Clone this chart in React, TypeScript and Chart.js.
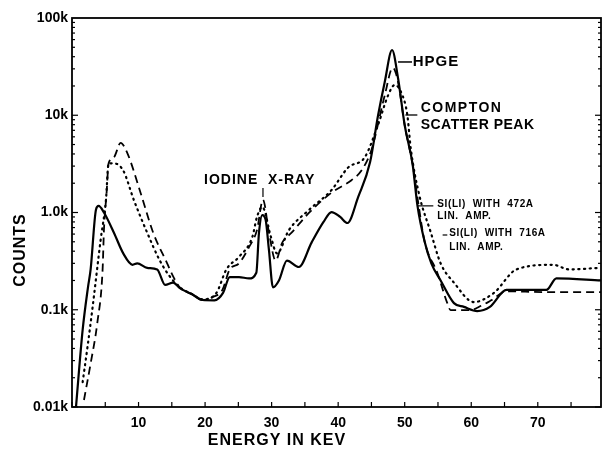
import React, { useEffect, useRef } from 'react';
import { Chart, registerables } from 'chart.js';

Chart.register(...registerables);

// ---- Data (energy in keV, counts in k) ----
const hpgeX = [0.6, 1.6, 2.4, 2.8, 3.6, 4.0, 4.8, 6.3, 7.7, 9.1, 9.8, 11.3, 12.8, 14.0, 15.2, 16.2, 18.0, 19.6, 21.4, 22.7, 23.7, 25.1, 26.6, 27.7, 28.1, 28.6, 29.1, 29.6, 30.2, 31.1, 32.3, 34.1, 36.0, 37.8, 39.0, 40.3, 41.4, 43.0, 44.8, 46.0, 47.0, 48.1, 49.0, 50.0, 51.2, 51.9, 53.0, 54.0, 55.4, 57.4, 58.9, 60.9, 62.8, 65.3, 71.3, 72.8, 79.5];
const hpgeY = [0.01, 0.062, 0.17, 0.26, 1.07, 1.17, 1.0, 0.62, 0.38, 0.29, 0.30, 0.27, 0.26, 0.18, 0.19, 0.167, 0.145, 0.126, 0.125, 0.149, 0.217, 0.217, 0.21, 0.24, 0.62, 0.94, 0.84, 0.41, 0.17, 0.20, 0.32, 0.275, 0.49, 0.80, 1.01, 0.90, 0.78, 1.44, 3.3, 10, 22, 46.9, 24, 7.9, 3.1, 1.2, 0.5, 0.3, 0.2, 0.117, 0.107, 0.097, 0.107, 0.16, 0.16, 0.21, 0.20];

const si472X = [1.8, 2.8, 3.8, 4.6, 4.8, 5.2, 5.5, 6.3, 7.3, 8.3, 10.3, 12.2, 14.3, 15.2, 16.2, 18.0, 19.6, 21.1, 22.6, 23.7, 25.1, 26.6, 27.8, 28.7, 29.6, 30.6, 31.6, 33.0, 35.6, 39.0, 42.0, 43.5, 45.0, 47.0, 48.2, 49.0, 50.0, 51.2, 52.0, 53.0, 54.9, 56.4, 56.9, 59.8, 61.5, 63.0, 65.3, 71.0, 79.5];
const si472Y = [0.0118, 0.028, 0.073, 0.26, 0.66, 1.6, 3.2, 3.7, 5.2, 4.1, 1.6, 0.62, 0.30, 0.22, 0.17, 0.145, 0.126, 0.135, 0.16, 0.26, 0.30, 0.44, 0.66, 1.35, 0.62, 0.32, 0.49, 0.62, 0.99, 1.6, 2.15, 2.7, 4.4, 16, 30.8, 22, 7.9, 3.1, 1.3, 0.5, 0.24, 0.117, 0.099, 0.099, 0.11, 0.125, 0.155, 0.152, 0.152];

const si716X = [1.6, 2.4, 3.1, 4.3, 5.1, 5.5, 6.3, 7.7, 9.3, 11.3, 13.2, 14.7, 16.2, 18.0, 19.6, 21.7, 23.2, 25.1, 27.1, 27.8, 28.6, 29.9, 30.8, 32.6, 35.6, 39.0, 41.5, 44.0, 46.0, 47.5, 48.5, 49.5, 50.4, 50.9, 52.2, 53.9, 55.4, 57.4, 60.4, 63.4, 66.8, 72.3, 74.7, 79.5];
const si716Y = [0.018, 0.045, 0.107, 0.52, 1.34, 3.2, 3.2, 2.7, 1.34, 0.62, 0.32, 0.22, 0.17, 0.145, 0.128, 0.149, 0.26, 0.35, 0.56, 0.90, 1.14, 0.56, 0.38, 0.66, 1.06, 1.7, 2.9, 3.7, 8, 16, 20.5, 17, 10, 4.6, 1.5, 0.63, 0.30, 0.19, 0.12, 0.149, 0.26, 0.29, 0.26, 0.27];

const xTickLabels = [10, 20, 30, 40, 50, 60, 70];
const yTickValues = [0.01, 0.1, 1, 10, 100];
const yTickLabels = ['0.01k', '0.1k', '1.0k', '10k', '100k'];

const xTitle = 'ENERGY IN KEV';
const yTitle = 'COUNTS';

const FONT = '"Liberation Sans", Arial, sans-serif';

const toPoints = (xs: number[], ys: number[]) => xs.map((x, i) => ({ x, y: ys[i] }));

const notesPlugin = {
  id: 'notes',
  afterDraw(chart: any) {
    const { ctx, chartArea: a } = chart;
    const xs = chart.scales.x;
    const ys = chart.scales.y;
    const px = (v: number) => xs.getPixelForValue(v);
    const py = (v: number) => ys.getPixelForValue(v);
    ctx.save();
    ctx.strokeStyle = '#000';
    ctx.fillStyle = '#000';
    ctx.lineWidth = 1.8;
    ctx.strokeRect(a.left, a.top, a.right - a.left, a.bottom - a.top);

    const line = (x1: number, y1: number, x2: number, y2: number, w = 1.2) => {
      ctx.lineWidth = w;
      ctx.beginPath();
      ctx.moveTo(x1, y1);
      ctx.lineTo(x2, y2);
      ctx.stroke();
    };
    // x ticks (inward)
    for (let v = 0; v < 80; v += 5) {
      const p = px(v);
      line(p, a.bottom, p, a.bottom - 5);
    }
    // y ticks (inward, left and right)
    for (let d = -2; d < 2; d++) {
      for (let m = 1; m < 10; m++) {
        const p = py(m * Math.pow(10, d));
        const len = m === 1 ? 6 : 3;
        line(a.left, p, a.left + len, p);
        line(a.right, p, a.right - len, p);
      }
    }

    // axis titles
    ctx.font = `bold 16px ${FONT}`;
    ctx.textAlign = 'center';
    ctx.textBaseline = 'middle';
    (ctx as any).letterSpacing = '1px';
    ctx.fillText(xTitle, 277, 441);
    ctx.save();
    ctx.translate(21, 250);
    ctx.rotate(-Math.PI / 2);
    ctx.fillText(yTitle, 0, 0);
    ctx.restore();

    // annotations
    const text = (s: string, x: number, y: number, size: number, align: CanvasTextAlign = 'left', ls = '0.5px') => {
      ctx.font = `bold ${size}px ${FONT}`;
      (ctx as any).letterSpacing = ls;
      ctx.textAlign = align;
      ctx.textBaseline = 'middle';
      ctx.fillText(s, px(x), py(y));
    };
    // Iodine
    text('IODINE  X-RAY', 28.2, 2.16, 14, 'center', '1px');
    line(px(28.7), py(1.79), px(28.7), py(1.44), 1.2);
    // HPGE
    text('HPGE', 51.2, 35.3, 15, 'left', '1px');
    line(px(49.0), py(35.3), px(51.1), py(35.3), 1.5);
    // Compton
    text('COMPTON', 52.4, 11.9, 14, 'left', '1.5px');
    text('SCATTER PEAK', 52.4, 7.94, 14, 'left', '0.5px');
    line(px(50.1), py(10.06), px(51.9), py(10.06), 1.3);
    // Si(Li) 472A
    text('SI(LI)  WITH  472A', 54.9, 1.22, 10, 'left', '0.6px');
    text('LIN.  AMP.', 54.9, 0.92, 10, 'left', '0.6px');
    line(px(51.9), py(1.17), px(54.3), py(1.17), 1.2);
    // Si(Li) 716A
    text('SI(LI)  WITH  716A', 56.7, 0.615, 10, 'left', '0.6px');
    text('LIN.  AMP.', 56.7, 0.442, 10, 'left', '0.6px');
    line(px(55.7), py(0.587), px(56.4), py(0.587), 1.2);
    ctx.restore();
  },
};

export default function App() {
  const ref = useRef<HTMLCanvasElement | null>(null);
  useEffect(() => {
    if (!ref.current) return;
    const chart = new Chart(ref.current, {
      type: 'line',
      data: {
        datasets: [
          {
            label: 'Si(Li) with 716A',
            data: toPoints(si716X, si716Y),
            borderColor: '#000',
            borderWidth: 2.2,
            borderDash: [1.2, 4.5],
            borderCapStyle: 'round',
            pointRadius: 0,
            fill: false,
            cubicInterpolationMode: 'monotone',
          },
          {
            label: 'Si(Li) with 472A',
            data: toPoints(si472X, si472Y),
            borderColor: '#000',
            borderWidth: 1.8,
            borderDash: [8, 5],
            pointRadius: 0,
            fill: false,
            cubicInterpolationMode: 'monotone',
          },
          {
            label: 'HPGE',
            data: toPoints(hpgeX, hpgeY),
            borderColor: '#000',
            borderWidth: 2.2,
            pointRadius: 0,
            fill: false,
            cubicInterpolationMode: 'monotone',
          },
        ],
      },
      options: {
        animation: false,
        responsive: true,
        maintainAspectRatio: false,
        layout: { padding: { top: 18, right: 4, left: 0, bottom: 0 } },
        plugins: { legend: { display: false }, tooltip: { enabled: false }, title: { display: false } },
        scales: {
          x: {
            type: 'linear',
            min: 0,
            max: 79.5,
            grid: { display: false, drawTicks: false },
            border: { display: false },
            afterFit: (s: any) => { s.height = 48; },
            ticks: {
              stepSize: 10,
              autoSkip: false,
              maxRotation: 0,
              padding: 8,
              color: '#000',
              font: { family: FONT, size: 14, weight: 'bold' },
              callback: (v: any) => (xTickLabels.includes(Number(v)) ? String(v) : ''),
            },
          },
          y: {
            type: 'logarithmic',
            min: 0.01,
            max: 100,
            grid: { display: false, drawTicks: false },
            border: { display: false },
            afterFit: (s: any) => { s.width = 72; },
            ticks: {
              autoSkip: false,
              padding: 4,
              color: '#000',
              font: { family: FONT, size: 14, weight: 'bold' },
              callback: (v: any) => {
                const n = Number(v);
                const i = yTickValues.findIndex((t) => Math.abs(Math.log10(t) - Math.log10(n)) < 1e-6);
                return i >= 0 ? yTickLabels[i] : '';
              },
            },
          },
        },
      },
      plugins: [notesPlugin],
    } as any);
    return () => chart.destroy();
  }, []);
  return (
    <div style={{ position: 'absolute', left: 0, top: 0, width: 609, height: 455, background: '#fff' }}>
      <canvas ref={ref} />
    </div>
  );
}
